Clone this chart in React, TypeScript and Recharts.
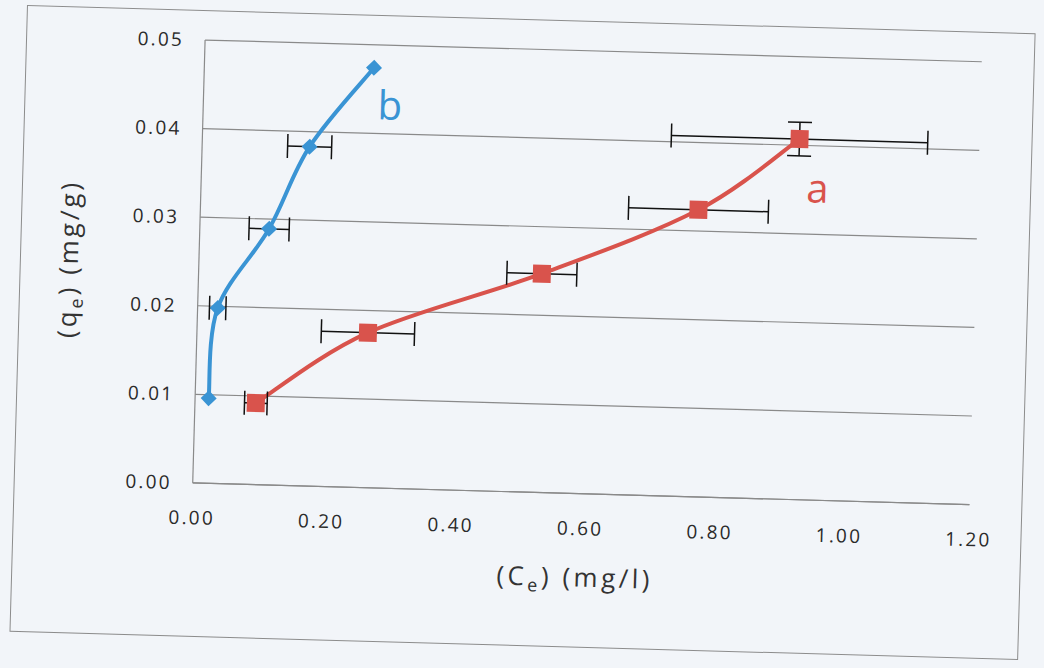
import React from 'react';
import { ComposedChart, Line, Scatter, XAxis, YAxis, CartesianGrid, ErrorBar, ReferenceDot } from 'recharts';

// Series a (red squares)
const ceA = [0.094, 0.264, 0.53, 0.769, 0.922];
const qeA = [0.0092, 0.0175, 0.0247, 0.0324, 0.0407];
const errCeA = [0.0175, 0.072, 0.054, 0.108, 0.198];
const errQeA = [0, 0, 0, 0, 0.0019];

// Series b (blue diamonds)
const ceB = [0.021, 0.031, 0.107, 0.166, 0.262];
const qeB = [0.0096, 0.0198, 0.0289, 0.0383, 0.0474];
const errCeB = [0, 0.0127, 0.031, 0.034, 0];
const errQeB = [0, 0, 0, 0, 0];

const xTicks = [0, 0.2, 0.4, 0.6, 0.8, 1.0, 1.2];
const yTicks = [0, 0.01, 0.02, 0.03, 0.04, 0.05];

const seriesLabels = ['a', 'b'];

const RED = '#d9534c';
const BLUE = '#3a94d4';
const FONT = '"Open Sans", "DejaVu Sans", sans-serif';

const aData = ceA.map((x, i) => ({ x, y: qeA[i], ex: errCeA[i], ey: errQeA[i] }));
const bData = ceB.map((x, i) => ({ x, y: qeB[i], ex: errCeB[i], ey: errQeB[i] }));

// Catmull-Rom style smoothing (like a spreadsheet "smoothed line")
const smoothCurve = (context: any) => {
  let pts: number[][] = [];
  return {
    areaStart() {},
    areaEnd() {},
    lineStart() {
      pts = [];
    },
    point(x: number, y: number) {
      pts.push([+x, +y]);
    },
    lineEnd() {
      if (!pts.length) return;
      context.moveTo(pts[0][0], pts[0][1]);
      for (let i = 0; i < pts.length - 1; i++) {
        const p0 = pts[i - 1] || pts[i];
        const p1 = pts[i];
        const p2 = pts[i + 1];
        const p3 = pts[i + 2] || p2;
        context.bezierCurveTo(
          p1[0] + (p2[0] - p0[0]) / 6,
          p1[1] + (p2[1] - p0[1]) / 6,
          p2[0] - (p3[0] - p1[0]) / 6,
          p2[1] - (p3[1] - p1[1]) / 6,
          p2[0],
          p2[1]
        );
      }
    },
  };
};

const RedSquare = (p: any) => (
  <rect x={p.cx - 9} y={p.cy - 9} width={18} height={18} fill={RED} />
);
const BlueDiamond = (p: any) => (
  <polygon
    points={`${p.cx},${p.cy - 8} ${p.cx + 8},${p.cy} ${p.cx},${p.cy + 8} ${p.cx - 8},${p.cy}`}
    fill={BLUE}
  />
);

const XTitle = (props: any) => {
  const vb = props.viewBox || { x: 0, y: 0, width: 0 };
  const cx = vb.x + vb.width / 2 - 4;
  const y = vb.y + 93;
  return (
    <text x={cx} y={y} textAnchor="middle" fontFamily={FONT} fontSize={26} fill="#333" letterSpacing={3.5}>
      <tspan>(C</tspan>
      <tspan fontSize={18} dy={6}>e</tspan>
      <tspan dy={-6}>) (mg/l)</tspan>
    </text>
  );
};

const YTitle = (props: any) => {
  const vb = props.viewBox || { x: 0, y: 0, height: 0 };
  const x = 76;
  const cy = vb.y + vb.height / 2 + 1;
  return (
    <text
      x={x}
      y={cy}
      textAnchor="middle"
      fontFamily={FONT}
      fontSize={26}
      fill="#333"
      letterSpacing={3}
      transform={`rotate(-90 ${x} ${cy})`}
    >
      <tspan>(q</tspan>
      <tspan fontSize={18} dy={6}>e</tspan>
      <tspan dy={-6}>) (mg/g)</tspan>
    </text>
  );
};

export default function App() {
  return (
    <div style={{ position: 'absolute', left: 0, top: 0, width: 1044, height: 668, background: '#f2f5f9', overflow: 'hidden' }}>
      <div
        style={{
          position: 'absolute',
          left: 0,
          top: 0,
          width: 1044,
          height: 668,
          transform: 'rotate(1.6deg)',
          transformOrigin: '522px 334px',
        }}
      >
        <div
          style={{
            position: 'absolute',
            left: 18,
            top: 19,
            width: 1009,
            height: 627,
            border: '1.5px solid #8c8c8c',
            boxSizing: 'border-box',
          }}
        />
        <div style={{ position: 'absolute', left: 0, top: 0 }}>
          <ComposedChart width={1044} height={668} margin={{ top: 49, right: 70, bottom: 116, left: 0 }}>
            <CartesianGrid vertical={false} stroke="#8a8a8a" strokeWidth={1.2} />
            <XAxis
              type="number"
              dataKey="x"
              domain={[0, 1.2]}
              ticks={xTicks}
              tickFormatter={(v: number) => v.toFixed(2)}
              height={60}
              axisLine={{ stroke: '#8a8a8a', strokeWidth: 1.2 }}
              tickLine={false}
              tickSize={0}
              tickMargin={28}
              tick={{ fill: '#2a2a2a', fontSize: 19, fontFamily: FONT, letterSpacing: 2.2 }}
              label={{ content: XTitle }}
              allowDataOverflow
            />
            <YAxis
              type="number"
              dataKey="y"
              domain={[0, 0.05]}
              ticks={yTicks}
              tickFormatter={(v: number) => v.toFixed(2)}
              width={197}
              axisLine={{ stroke: '#8a8a8a', strokeWidth: 1.2 }}
              tickLine={false}
              tickSize={0}
              tickMargin={21}
              tick={{ fill: '#2a2a2a', fontSize: 19, fontFamily: FONT, letterSpacing: 2.2 }}
              label={{ content: YTitle }}
              allowDataOverflow
            />
            <Line
              data={aData}
              dataKey="y"
              type={smoothCurve as any}
              stroke={RED}
              strokeWidth={4}
              dot={false}
              activeDot={false}
              isAnimationActive={false}
            />
            <Line
              data={bData}
              dataKey="y"
              type={smoothCurve as any}
              stroke={BLUE}
              strokeWidth={4}
              dot={false}
              activeDot={false}
              isAnimationActive={false}
            />
            <Scatter data={aData} dataKey="y" shape={RedSquare} isAnimationActive={false}>
              <ErrorBar dataKey="ex" direction="x" stroke="#111" strokeWidth={1.5} width={12} />
              <ErrorBar dataKey="ey" direction="y" stroke="#111" strokeWidth={1.5} width={12} />
            </Scatter>
            <Scatter data={bData} dataKey="y" shape={BlueDiamond} isAnimationActive={false}>
              <ErrorBar dataKey="ex" direction="x" stroke="#111" strokeWidth={1.5} width={12} />
            </Scatter>
            <ReferenceDot
              x={0.952}
              y={0.0352}
              r={0}
              fill="none"
              stroke="none"
              label={{ value: seriesLabels[0], position: 'center', fill: RED, fontSize: 40, fontFamily: FONT }}
            />
            <ReferenceDot
              x={0.288}
              y={0.0432}
              r={0}
              fill="none"
              stroke="none"
              label={{ value: seriesLabels[1], position: 'center', fill: BLUE, fontSize: 40, fontFamily: FONT }}
            />
          </ComposedChart>
        </div>
      </div>
    </div>
  );
}
